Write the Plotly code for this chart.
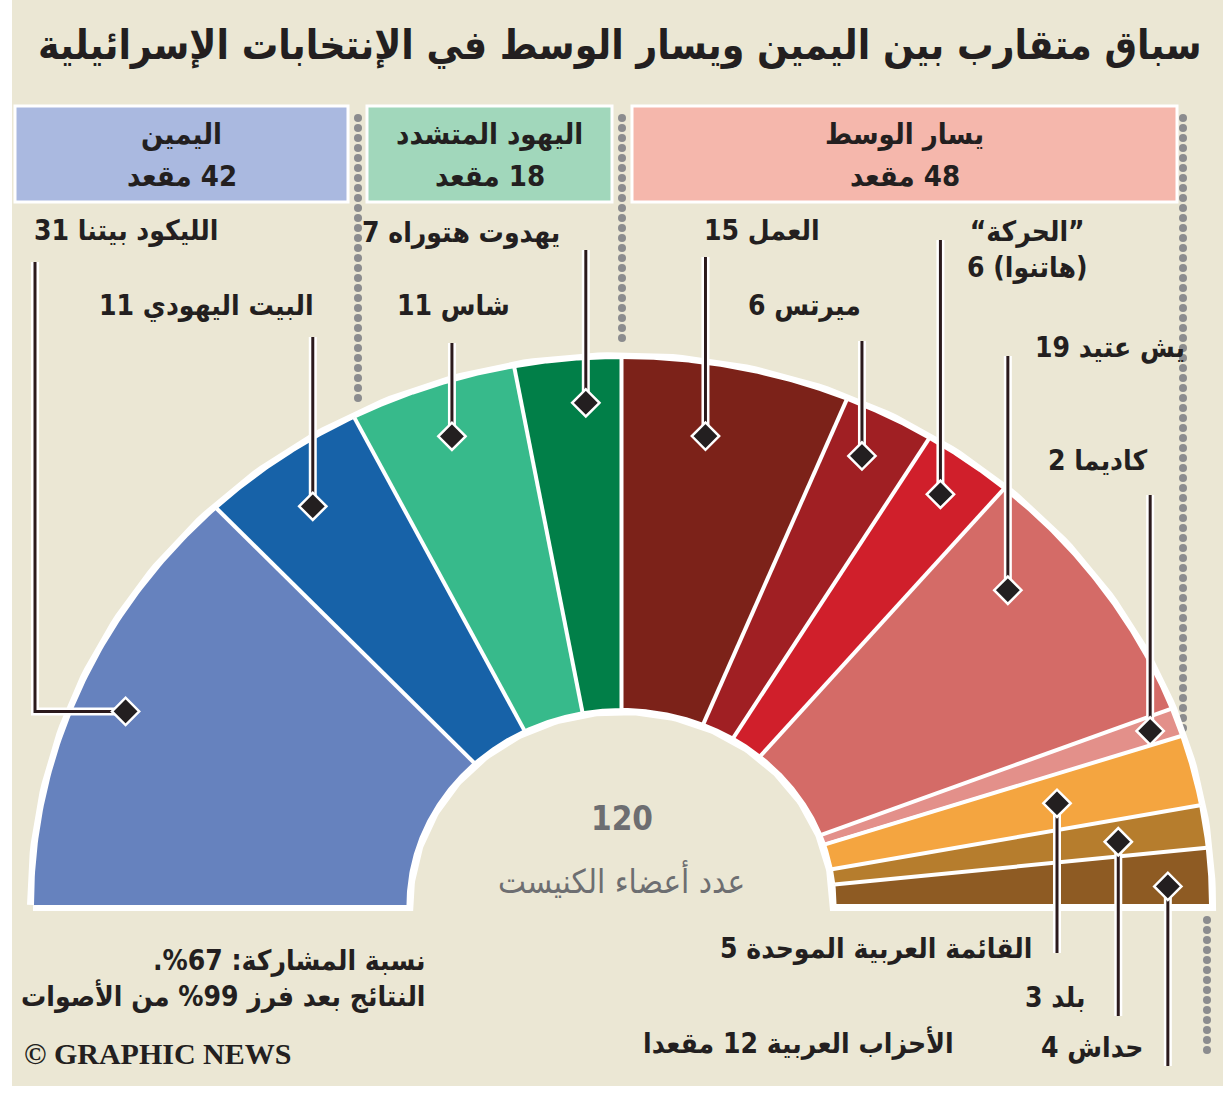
import numpy as np
import plotly.graph_objects as go

# Data
parties = ["الليكود بيتنا", "البيت اليهودي", "شاس", "يهدوت هتوراه",
           "العمل", "ميرتس", "”الحركة“<br>(هاتنوا)", "يش عتيد", "كاديما",
           "القائمة العربية الموحدة", "بلد", "حداش"]
seats = [31, 11, 11, 7, 15, 6, 6, 19, 2, 5, 3, 4]
blocs = ["اليمين", "اليهود المتشدد", "يسار الوسط", "الأحزاب العربية"]
bloc_members = [2, 2, 5, 3]   # number of parties in each bloc, in order
title = "سباق متقارب بين اليمين ويسار الوسط في الإنتخابات الإسرائيلية"
centre_label = "عدد أعضاء الكنيست"
turnout_pct = 67
counted_pct = 99

# Style
colors = ["#6682be", "#1762a8", "#37ba8b", "#017f48", "#7c2219", "#a01f23",
          "#d01f2b", "#d46b67", "#e3908a", "#f4a540", "#b67d2d", "#8e5b23"]
box_colors = ["#aab9e0", "#a1d7bb", "#f5b7ac"]
BG = "#ebe7d4"
INK = "#231f20"
GREY = "#6d6e71"
FONT = "DejaVu Sans Condensed, DejaVu Sans"

W, H = 1223, 1095
CX, CY = 621.5, 905          # centre of the half ring (px)
RX, RY = 588.5, 547          # outer radii
IRX, IRY = 214, 196          # inner radii

# pin placement inside each wedge: share of the wedge's angle, share of radius
PIN_ANG = [0.49, 0.47, 0.51, 0.64, 0.42, 0.44, 0.48, 0.29, 0.5, 0.52, 0.6, 0.65]
PIN_R = [0.914, 0.898, 0.904, 0.92, 0.869, 0.917, 0.926, 0.873, 0.953, 0.763, 0.852, 0.929]
# where each leader line ends (label side) and label centre positions
LEAD_END = [262, 337, 343, 250, 257, 341, 240, 356, 495, 953, 1016, 1066]
LABEL_XY = [(126, 230), (206, 305), (453, 305), (461, 232), (762, 230), (804, 305),
            (1027, 249), (1110, 347), (1097, 460), (876, 948), (1055, 997), (1092, 1047)]
ELBOW_X = 35
BOX_X = [(15, 348), (367, 612), (632, 1177)]


def rtl(s):
    return "<br>".join("\u202b" + p + "\u202c" for p in s.split("<br>"))


cum = np.concatenate([[0], np.cumsum(seats)])
total = cum[-1]


def ang(v):
    return np.pi * (1 - v / total)


fig = go.Figure()

# background panel
fig.add_shape(type="rect", x0=12, x1=W, y0=0, y1=1086, fillcolor=BG,
              line=dict(width=0), layer="below")

# header boxes for the blocs
bloc_seats = []
start = 0
for n in bloc_members:
    bloc_seats.append(int(sum(seats[start:start + n])))
    start += n
for (x0, x1), col, name, s in zip(BOX_X, box_colors, blocs[:3], bloc_seats[:3]):
    fig.add_shape(type="rect", x0=x0, x1=x1, y0=106, y1=202, fillcolor=col,
                  line=dict(color="white", width=3), layer="below")
    fig.add_annotation(x=(x0 + x1) / 2, y=134, text=rtl(name), showarrow=False,
                       font=dict(family=FONT, size=29, color=INK, weight="bold"))
    fig.add_annotation(x=(x0 + x1) / 2, y=176, text=rtl(f"{s} مقعد"), showarrow=False,
                       font=dict(family=FONT, size=29, color=INK, weight="bold"))

# dotted separators
for x, y0, y1 in [(358, 118, 406), (622, 118, 340), (1183, 118, 730), (1207, 920, 1058)]:
    ys = np.arange(y0, y1, 10)
    fig.add_trace(go.Scatter(x=[x] * len(ys), y=ys, mode="markers", hoverinfo="skip",
                             marker=dict(size=8, color="#8b8c8e")))

# white rim under the ring
t = np.linspace(np.pi, 0, 200)
fig.add_trace(go.Scatter(
    x=np.concatenate([CX + RX * np.cos(t), CX + IRX * np.cos(t[::-1]), [CX + RX * np.cos(t[0])]]),
    y=np.concatenate([CY - RY * np.sin(t), CY - IRY * np.sin(t[::-1]), [CY]]),
    mode="lines", fill="toself", fillcolor="white",
    line=dict(color="white", width=12), hoverinfo="skip"))

# wedges
for i, col in enumerate(colors):
    t = np.linspace(ang(cum[i]), ang(cum[i + 1]), 80)
    xs = np.concatenate([CX + RX * np.cos(t), CX + IRX * np.cos(t[::-1])])
    ys = np.concatenate([CY - RY * np.sin(t), CY - IRY * np.sin(t[::-1])])
    fig.add_trace(go.Scatter(x=xs, y=ys, fill="toself", fillcolor=col, mode="lines",
                             line=dict(color="white", width=2), name=parties[i],
                             hoverinfo="skip"))

# white gaps between wedges
sx, sy = [], []
for v in cum[1:-1]:
    a = ang(v)
    sx += [CX + IRX * np.cos(a), CX + RX * np.cos(a), None]
    sy += [CY - IRY * np.sin(a), CY - RY * np.sin(a), None]
fig.add_trace(go.Scatter(x=sx, y=sy, mode="lines", hoverinfo="skip",
                         line=dict(color="white", width=4)))

# pins and leader lines
px, py = [], []
for i in range(len(seats)):
    a = ang(cum[i] + PIN_ANG[i] * seats[i])
    px.append(CX + PIN_R[i] * RX * np.cos(a))
    py.append(CY - PIN_R[i] * RY * np.sin(a))

lx, ly = [], []
for i in range(len(seats)):
    if i == 0:
        lx += [ELBOW_X, ELBOW_X, px[i], None]
        ly += [LEAD_END[i], py[i], py[i], None]
    else:
        lx += [px[i], px[i], None]
        ly += [LEAD_END[i], py[i], None]
fig.add_trace(go.Scatter(x=lx, y=ly, mode="lines", hoverinfo="skip",
                         line=dict(color="white", width=8)))
fig.add_trace(go.Scatter(x=lx, y=ly, mode="lines", hoverinfo="skip",
                         line=dict(color="#2b1a1c", width=3)))
fig.add_trace(go.Scatter(x=px, y=py, mode="markers", hoverinfo="skip",
                         marker=dict(symbol="diamond", size=21, color=INK,
                                     line=dict(color="white", width=2.5))))

# party labels
for name, s, (x, y) in zip(parties, seats, LABEL_XY):
    fig.add_annotation(x=x, y=y, text=rtl(f"{name} {s}"), showarrow=False,
                       font=dict(family=FONT, size=28, color=INK, weight="bold"))

fig.add_annotation(x=798, y=1043, text=rtl(f"{blocs[3]} {bloc_seats[3]} مقعدا"),
                   showarrow=False, font=dict(family=FONT, size=28, color=INK, weight="bold"))

# centre
fig.add_annotation(x=CX, y=818, text=str(total), showarrow=False,
                   font=dict(family=FONT, size=33, color=GREY, weight="bold"))
fig.add_annotation(x=CX, y=880, text=rtl(centre_label), showarrow=False,
                   font=dict(family=FONT, size=33, color=GREY))

# title and notes
fig.add_annotation(x=620, y=45, text=rtl(title), showarrow=False,
                   font=dict(family=FONT, size=40.5, color=INK, weight="bold"))
fig.add_annotation(x=428, y=978, xanchor="right",
                   text=rtl(f"نسبة المشاركة: {turnout_pct}%.") + "<br>"
                   + rtl(f"النتائج بعد فرز {counted_pct}% من الأصوات"),
                   showarrow=False, align="right",
                   font=dict(family=FONT, size=28, color=INK, weight="bold"))
fig.add_annotation(x=22, y=1053, xanchor="left", text="© GRAPHIC NEWS", showarrow=False,
                   font=dict(family="Liberation Serif", size=30, color=INK, weight="bold"))

fig.update_layout(
    width=W, height=H,
    margin=dict(l=0, r=0, t=0, b=0),
    paper_bgcolor="white", plot_bgcolor="rgba(0,0,0,0)",
    showlegend=False,
    xaxis=dict(range=[0, W], visible=False, fixedrange=True),
    yaxis=dict(range=[H, 0], visible=False, fixedrange=True),
)

fig.write_html("out.html", config={"displayModeBar": False},
               post_script="document.body.style.margin='0';")
